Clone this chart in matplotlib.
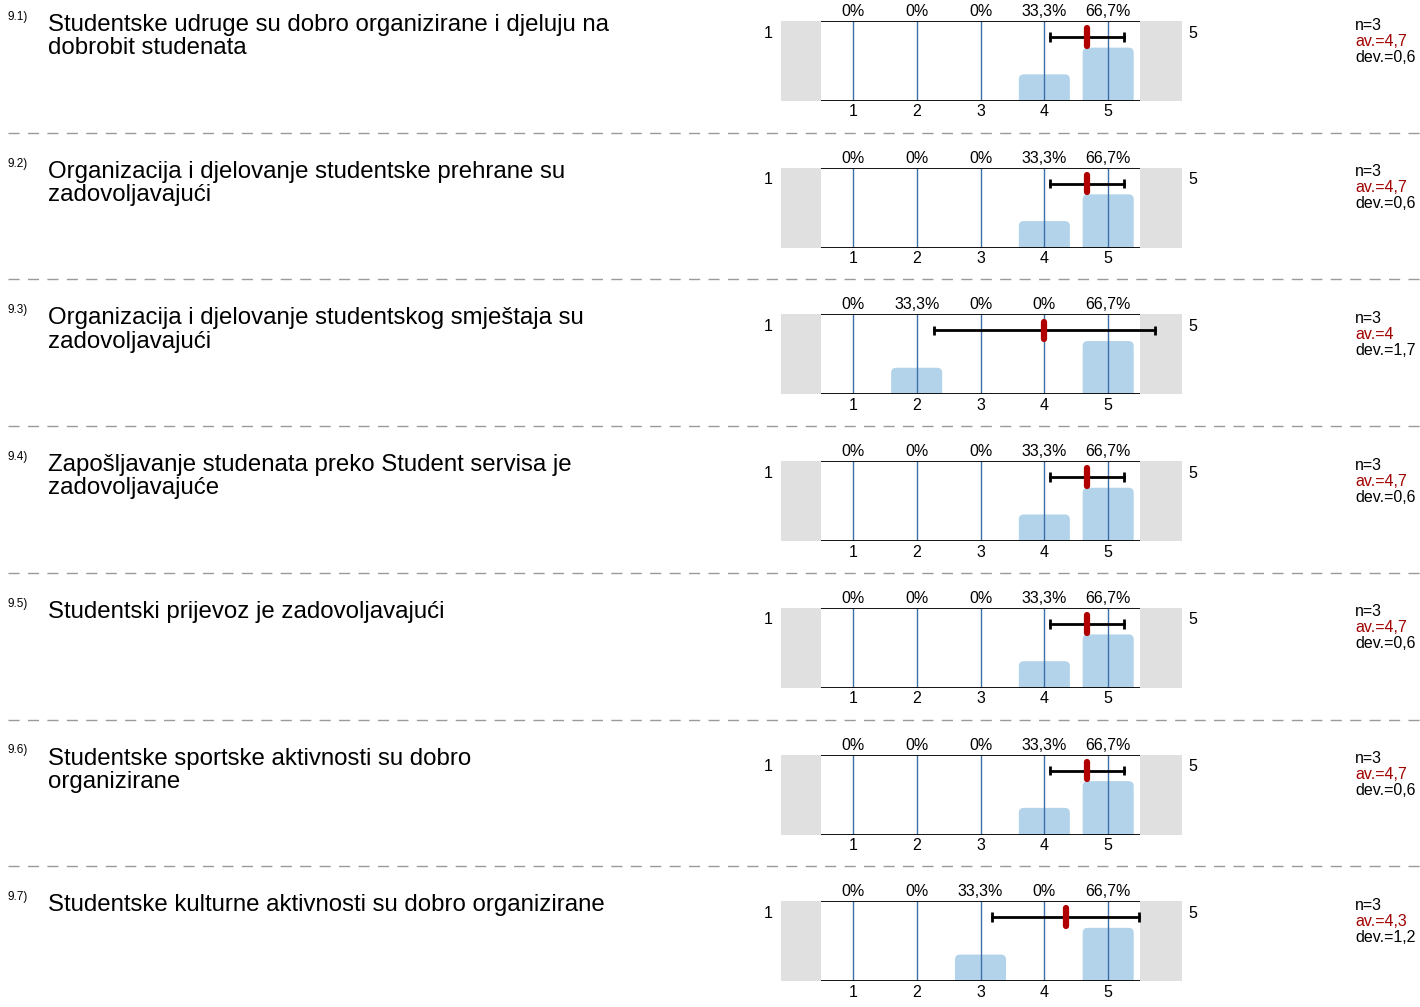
import matplotlib.pyplot as plt
from matplotlib.patches import FancyBboxPatch

plt.rcParams['font.family'] = ['Liberation Sans', 'DejaVu Sans']

W, H = 1420, 1007

numbers = ['9.1)', '9.2)', '9.3)', '9.4)', '9.5)', '9.6)', '9.7)']
questions = [
    'Studentske udruge su dobro organizirane i djeluju na\ndobrobit studenata',
    'Organizacija i djelovanje studentske prehrane su\nzadovoljavajući',
    'Organizacija i djelovanje studentskog smještaja su\nzadovoljavajući',
    'Zapošljavanje studenata preko Student servisa je\nzadovoljavajuće',
    'Studentski prijevoz je zadovoljavajući',
    'Studentske sportske aktivnosti su dobro\norganizirane',
    'Studentske kulturne aktivnosti su dobro organizirane',
]
scale = [1, 2, 3, 4, 5]
percents = [
    [0, 0, 0, 33.3, 66.7],
    [0, 0, 0, 33.3, 66.7],
    [0, 33.3, 0, 0, 66.7],
    [0, 0, 0, 33.3, 66.7],
    [0, 0, 0, 33.3, 66.7],
    [0, 0, 0, 33.3, 66.7],
    [0, 0, 33.3, 0, 66.7],
]
n_resp = [3, 3, 3, 3, 3, 3, 3]
means = [4.667, 4.667, 4.0, 4.667, 4.667, 4.667, 4.333]
devs = [0.577, 0.577, 1.732, 0.577, 0.577, 0.577, 1.155]


def fmt(v):
    s = f'{v:.1f}'
    if s.endswith('.0'):
        s = s[:-2]
    return s.replace('.', ',')


fig = plt.figure(figsize=(W / 100, H / 100), dpi=100)
over = fig.add_axes([0, 0, 1, 1])
over.set_xlim(0, W)
over.set_ylim(H, 0)
over.axis('off')

step = 146.7
for i in range(len(questions)):
    off = i * step

    over.text(8, 17 + off, numbers[i], fontsize=8.5, va='center', ha='left')
    over.text(48, 14 + off, questions[i], fontsize=17.3, va='top', ha='left',
              linespacing=1.07)

    over.text(768, 33 + off, '1', fontsize=11.5, ha='center', va='center')
    over.text(1193, 33 + off, '5', fontsize=11.5, ha='center', va='center')

    over.text(1355, 25 + off, f'n={n_resp[i]}', fontsize=11.5, va='center')
    over.text(1355, 41 + off, f'av.={fmt(means[i])}', fontsize=11.5,
              va='center', color='#a00000')
    over.text(1355, 57 + off, f'dev.={fmt(devs[i])}', fontsize=11.5,
              va='center')

    if i > 0:
        over.plot([8, 1420], [off - 14, off - 14], color='#9a9a9a', lw=1,
                  dashes=(8, 6))

    # chart box
    x0, x1 = 781, 1182
    y0, y1 = 21 + off, 101 + off
    ax = fig.add_axes([x0 / W, 1 - y1 / H, (x1 - x0) / W, (y1 - y0) / H])
    ax.set_xlim(0.5 - 40 / 64, 5.5 + 42 / 64)
    ax.set_ylim(0, 100)
    for sp in ax.spines.values():
        sp.set_visible(False)
    ax.set_yticks([])
    ax.axvspan(0.5 - 40 / 64, 0.5, color='#e0e0e0', lw=0)
    ax.axvspan(5.5, 5.5 + 42 / 64, color='#e0e0e0', lw=0)

    # bars with rounded tops (bottom corners pushed below the axis)
    for x, p in zip(scale, percents[i]):
        if p <= 0:
            continue
        bar = FancyBboxPatch((x - 0.4, -10), 0.8, p + 10,
                             boxstyle='round,pad=0,rounding_size=0.08',
                             mutation_aspect=80, fc='#b3d3ea', ec='none',
                             zorder=2)
        ax.add_patch(bar)
    ax.vlines(scale, 0, 100, color='#3d6fa8', lw=1, zorder=3)
    ax.hlines([0, 100], 0.5, 5.5, color='black', lw=1.3, zorder=4)

    lo, hi = means[i] - devs[i], means[i] + devs[i]
    ax.plot([lo, hi], [80, 80], color='black', lw=2, zorder=5)
    ax.vlines([lo, hi], 74, 86, color='black', lw=2, zorder=5)
    ax.plot([means[i], means[i]], [69, 91], color='#b00000', lw=4.5,
            solid_capstyle='round', zorder=6)

    for x, p in zip(scale, percents[i]):
        ax.annotate(f'{fmt(p)}%', (x, 100), xytext=(0, 2),
                    textcoords='offset pixels', fontsize=11.5,
                    ha='center', va='bottom')

    ax.set_xticks(scale)
    ax.set_xticklabels([str(s) for s in scale], fontsize=11.5)
    ax.tick_params(axis='x', length=0, pad=2.5)

fig.savefig('out.png', dpi=100)
